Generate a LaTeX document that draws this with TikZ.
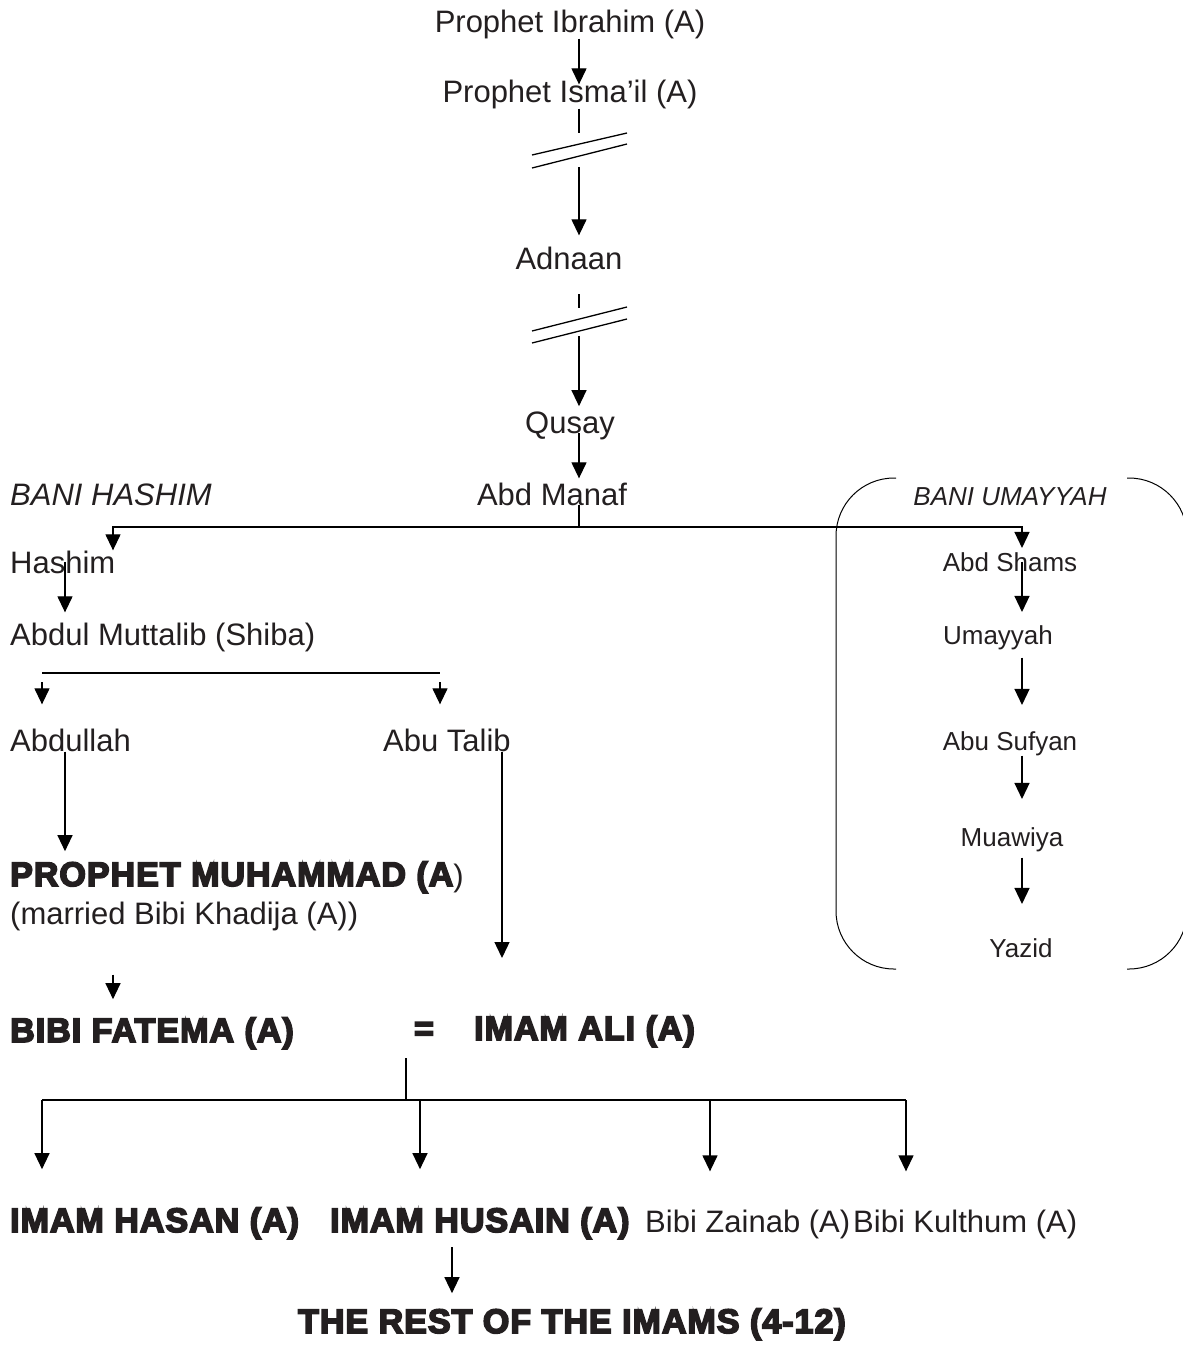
\documentclass[tikz,border=0pt]{standalone}
\usepackage{fontspec}
\setmainfont{Liberation Sans}
\newfontfamily\heavyfont{Liberation Sans Bold}[FakeBold=5,LetterSpace=3]
\usepackage{tikz}
\usetikzlibrary{calc,arrows.meta}

\definecolor{ink}{RGB}{35,31,32}
\newcommand{\reg}{\normalfont\fontsize{31}{36}\selectfont}
\newcommand{\sml}{\normalfont\fontsize{26}{30}\selectfont}
\newcommand{\hvy}{\heavyfont\fontsize{34}{40}\selectfont}

\tikzset{
 person/.style={inner sep=0pt, text=ink, font=\reg, anchor=base},
 side/.style={inner sep=0pt, text=ink, font=\sml, anchor=base},
 big/.style={inner sep=0pt, text=ink, font=\hvy, anchor=base west},
 arr/.style={line width=1.3pt, -{Triangle[length=16pt,width=15pt]}},
 ln/.style={line width=1.3pt},
 brace/.style={line width=1pt, rounded corners=58pt}
}

\begin{document}
\begin{tikzpicture}[x=1pt,y=-1pt]
\useasboundingbox (0,0) rectangle (1183,1366);
% columns
\coordinate (midcol) at (579,0);
\coordinate (hashcol) at (65,0);
\coordinate (leftcol) at (113,0);
\coordinate (talibcol) at (502,0);
\coordinate (restcol) at (452,0);
\coordinate (umcol) at (1022,0);

% main line
\node[person] (ibrahim) at (570,32) {Prophet Ibrahim (A)};
\node[person] (ismail) at (570,102) {Prophet Isma’il (A)};
\node[person] (adnaan) at (569,269) {Adnaan};
\node[person] (qusay) at (570,433) {Qusay};
\node[person] (manaf) at (552,505) {Abd Manaf};

\draw[arr, shorten >=-5pt] (ibrahim.south -| midcol) -- (ismail.north -| midcol);

% break 1
\coordinate (brk1) at (579,150);
\draw[ln] (ismail.south -| midcol) -- ($(brk1)+(0,-17)$);
\draw[ln] ($(brk1)+(-47,5)$) -- ($(brk1)+(48,-17)$);
\draw[ln] ($(brk1)+(-47,18)$) -- ($(brk1)+(48,-6)$);
\draw[arr, shorten >=11pt] ($(brk1)+(0,17)$) -- (adnaan.north -| midcol);

% break 2
\coordinate (brk2) at (579,325);
\draw[ln] ($(brk2)+(0,-31)$) -- ($(brk2)+(0,-17)$);
\draw[ln] ($(brk2)+(-47,6)$) -- ($(brk2)+(48,-18)$);
\draw[ln] ($(brk2)+(-47,18)$) -- ($(brk2)+(48,-6)$);
\draw[arr, shorten >=5pt] ($(brk2)+(0,11)$) -- (qusay.north -| midcol);

\draw[arr, shorten >=4pt] (qusay.base -| midcol) -- (manaf.north -| midcol);

% bani hashim
\node[person, anchor=base west, font=\reg\itshape] (banihashim) at (10,505) {BANI HASHIM};
\node[person, anchor=base west] (hashim) at (10,573) {Hashim};
\node[person, anchor=base west] (muttalib) at (10,645) {Abdul Muttalib (Shiba)};
\node[person, anchor=base west] (abdullah) at (10,751) {Abdullah};
\node[person, anchor=base west] (abutalib) at (383,751) {Abu Talib};

% bani umayyah
\node[side, font=\sml\itshape] (baniumayyah) at (1010,505) {BANI UMAYYAH};
\node[side] (abdshams) at (1010,571) {Abd Shams};
\node[side] (umayyah) at (998,644) {Umayyah};
\node[side] (abusufyan) at (1010,750) {Abu Sufyan};
\node[side] (muawiya) at (1012,846) {Muawiya};
\node[side] (yazid) at (1021,957) {Yazid};

\coordinate (split1) at (579,527);
\draw[arr] (manaf.base -| midcol) -- (split1) -| (hashim.north -| leftcol);
\draw[arr, shorten >=4pt] (split1) -| (abdshams.north -| umcol);

\draw[arr, shorten >=10pt] (hashim.center -| hashcol) -- (muttalib.north -| hashcol);

\coordinate (bar1w) at (42,673);
\coordinate (bar1e) at (440,673);
\draw[ln] (bar1w) -- (bar1e);
\draw[arr, shorten <=9pt, shorten >=24pt] (bar1w) -- (abdullah.north -| bar1w);
\draw[arr, shorten <=9pt, shorten >=24pt] (bar1e) -- (abutalib.north -| bar1e);

\draw[arr, shorten >=13pt] (abdshams.center -| umcol) -- (umayyah.north -| umcol);
\draw[arr, shorten <=8pt, shorten >=26pt] (umayyah.south -| umcol) -- (abusufyan.north -| umcol);
\draw[arr, shorten >=28pt] (abusufyan.south -| umcol) -- (muawiya.north -| umcol);
\draw[arr, shorten <=6pt, shorten >=34pt] (muawiya.south -| umcol) -- (yazid.north -| umcol);

\draw[brace] (896,478) -- (836,478) -- (836,969) -- (896,969);
\draw[brace] (1127,478) -- (1187,478) -- (1187,969) -- (1127,969);

% prophet and family
\node[big] (muhammad) at (10,886) {PROPHET MUHAMMAD (A{\reg )}};
\node[person, anchor=base west] (married) at (10,924) {(married Bibi Khadija (A))};
\node[big] (fatema) at (10,1042) {BIBI FATEMA (A)};
\node[big, anchor=base] (equals) at (424,1040) {=};
\node[big] (ali) at (474,1040) {IMAM ALI (A)};

\draw[arr, shorten >=10pt] (abdullah.south -| hashcol) -- (muhammad.north -| hashcol);
\coordinate (talibend) at (502,958);
\draw[arr] (abutalib.south -| talibcol) -- (talibend);
\draw[arr, shorten <=44pt, shorten >=18pt] (married.south -| leftcol) -- (fatema.north -| leftcol);

% children
\node[big] (hasan) at (10,1232) {IMAM HASAN (A)};
\node[big] (husain) at (330,1232) {IMAM HUSAIN (A)};
\node[person, anchor=base west] (zainab) at (645,1232) {Bibi Zainab (A)};
\node[person, anchor=base west] (kulthum) at (853,1232) {Bibi Kulthum (A)};
\node[big] (rest) at (298,1333) {THE REST OF THE IMAMS (4-12)};

\coordinate (split2) at (406,1100);
\coordinate (kidw) at (42,1100);
\coordinate (kidb) at (420,1100);
\coordinate (kidc) at (710,1100);
\coordinate (kide) at (906,1100);
\draw[ln, shorten <=18pt] (equals.south -| split2) -- (split2);
\draw[ln] (kidw) -- (kide);
\foreach \k/\n in {kidw/hasan, kidb/husain, kidc/zainab, kide/kulthum}
  \draw[arr, shorten >=38pt] (\k) -- (\n.north -| \k);

\draw[arr, shorten <=8pt, shorten >=15pt] (husain.south -| restcol) -- (rest.north -| restcol);
\end{tikzpicture}
\end{document}
